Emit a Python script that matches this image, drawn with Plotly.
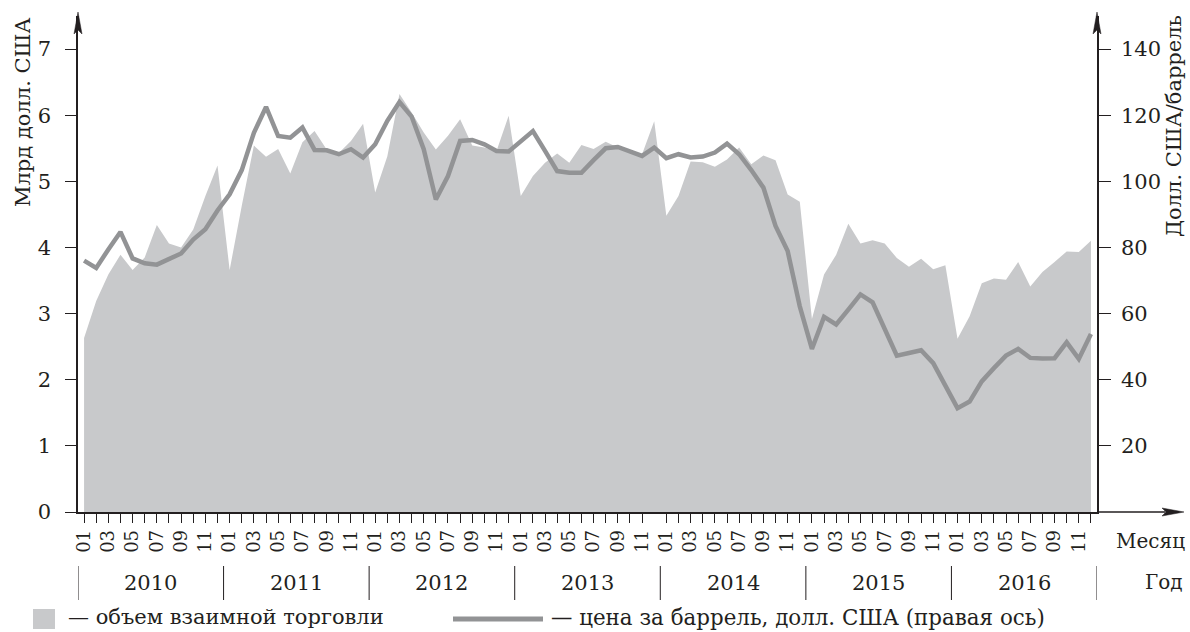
import plotly.graph_objects as go
import numpy as np

# ---------------- data ----------------
years = [2010, 2011, 2012, 2013, 2014, 2015, 2016]
month_labels = ["01", "02", "03", "04", "05", "06", "07", "08", "09", "10", "11", "12"]

# mutual trade volume, bn USD (left axis), monthly 2010-01 .. 2016-12
trade_volume = [
    2.63, 3.19, 3.59, 3.89, 3.66, 3.85, 4.34, 4.06, 4.00, 4.27, 4.78, 5.24,   # 2010
    3.66, 4.63, 5.54, 5.37, 5.49, 5.12, 5.59, 5.76, 5.48, 5.43, 5.61, 5.87,   # 2011
    4.83, 5.38, 6.32, 6.04, 5.74, 5.48, 5.69, 5.94, 5.54, 5.51, 5.46, 5.99,   # 2012
    4.78, 5.08, 5.28, 5.42, 5.28, 5.55, 5.49, 5.60, 5.51, 5.46, 5.41, 5.91,   # 2013
    4.48, 4.78, 5.30, 5.29, 5.22, 5.33, 5.51, 5.26, 5.39, 5.32, 4.80, 4.69,   # 2014
    2.92, 3.59, 3.89, 4.36, 4.06, 4.11, 4.06, 3.84, 3.71, 3.83, 3.67, 3.73,   # 2015
    2.62, 2.96, 3.46, 3.53, 3.51, 3.78, 3.41, 3.63, 3.78, 3.94, 3.93, 4.10,   # 2016
]

# oil price, USD per barrel (right axis)
oil_price = [
    76.0, 73.8, 79.4, 84.7, 76.7, 75.2, 74.8, 76.4, 78.2, 82.4, 85.5, 91.2,   # 2010
    96.1, 103.4, 114.7, 122.5, 113.7, 113.2, 116.3, 109.5, 109.4, 108.2, 109.7, 107.2,  # 2011
    111.2, 118.3, 124.0, 119.6, 109.7, 94.5, 101.6, 112.2, 112.5, 111.2, 109.2, 109.0,  # 2012
    112.2, 115.2, 109.2, 103.1, 102.6, 102.6, 106.4, 110.0, 110.4, 109.0, 107.7, 110.2,  # 2013
    107.0, 108.2, 107.2, 107.5, 108.7, 111.4, 108.2, 103.4, 98.1, 86.5, 78.9, 62.2,    # 2014
    49.3, 59.0, 56.7, 61.2, 65.8, 63.4, 55.2, 47.3, 48.1, 48.9, 45.0, 38.5,            # 2015
    31.4, 33.4, 39.5, 43.5, 47.3, 49.3, 46.6, 46.4, 46.5, 51.3, 46.3, 53.8,            # 2016
]

left_ticks = [0, 1, 2, 3, 4, 5, 6, 7]
right_ticks = [20, 40, 60, 80, 100, 120, 140]

left_title = "Млрд долл. США"
right_title = "Долл. США/баррель"
legend_area = "— объем взаимной торговли"
legend_line = "— цена за баррель, долл. США (правая ось)"

# ---------------- layout constants ----------------
W, H = 1190, 632
ML, MR, MT, MB = 78, 93, 16, 120
PW = W - ML - MR
PH = H - MT - MB
Y0 = H - MB  # pixel of zero line

def px(x):
    return (x - ML) / PW

def py(y):
    return (Y0 - y) / PH

FONT = "DejaVu Serif"
TXT = "#231f20"
AREA = "#c8c9cb"
LINE = "#929395"

x = np.arange(len(trade_volume))
tickvals = [i for i in x if i != 47]
ticktext = [month_labels[i % 12] if (i % 12) % 2 == 0 else "" for i in tickvals]

fig = go.Figure()
fig.add_trace(go.Scatter(x=x, y=trade_volume, mode="none", fill="tozeroy",
                         fillcolor=AREA, yaxis="y", hoverinfo="skip"))
fig.add_trace(go.Scatter(x=x, y=oil_price, mode="lines",
                         line=dict(color=LINE, width=4.5), yaxis="y2"))

shapes = []
annotations = []

def note(xp, yp, text, size, angle=0, xanchor="center"):
    return dict(xref="paper", yref="paper", x=px(xp), y=py(yp), text=text,
                textangle=angle, showarrow=False, xanchor=xanchor, yanchor="middle",
                font=dict(family=FONT, size=size, color=TXT))

# year separators and labels
for k in range(len(years) + 1):
    shapes.append(dict(type="line", xref="x", yref="paper",
                       x0=-0.5 + 12 * k, x1=-0.5 + 12 * k,
                       y0=py(566), y1=py(600), line=dict(color=TXT, width=1)))
for k, yr in enumerate(years):
    annotations.append(dict(xref="x", yref="paper", x=5.5 + 12 * k, y=py(583),
                            text=str(yr), showarrow=False, xanchor="center", yanchor="middle",
                            font=dict(family=FONT, size=21, color=TXT)))

annotations.append(note(1150, 541, "Месяц", 20))
annotations.append(note(1164, 582, "Год", 20))

# axis titles
annotations.append(note(23, 112, left_title, 21, angle=-90))
annotations.append(note(1174, 126, right_title, 21, angle=-90))

# axis extensions and arrows
shapes.append(dict(type="line", xref="paper", yref="paper", x0=0, x1=0,
                   y0=1, y1=py(30), line=dict(color=TXT, width=1.5)))
shapes.append(dict(type="line", xref="paper", yref="paper", x0=1, x1=1,
                   y0=1, y1=py(30), line=dict(color=TXT, width=1.5)))
shapes.append(dict(type="line", xref="paper", yref="paper", x0=1, x1=px(1165),
                   y0=0, y1=0, line=dict(color=TXT, width=1.5)))

def up_arrow(xp):
    return (f"M {px(xp)},{py(12)} L {px(xp-4)},{py(34)} L {px(xp)},{py(30)} "
            f"L {px(xp+4)},{py(34)} Z")

shapes.append(dict(type="path", xref="paper", yref="paper", path=up_arrow(ML),
                   fillcolor=TXT, line=dict(color=TXT, width=0.5)))
shapes.append(dict(type="path", xref="paper", yref="paper", path=up_arrow(ML + PW),
                   fillcolor=TXT, line=dict(color=TXT, width=0.5)))
shapes.append(dict(type="path", xref="paper", yref="paper",
                   path=(f"M {px(1184)},{py(Y0)} L {px(1162)},{py(Y0-4)} L {px(1166)},{py(Y0)} "
                         f"L {px(1162)},{py(Y0+4)} Z"),
                   fillcolor=TXT, line=dict(color=TXT, width=0.5)))

# custom legend
shapes.append(dict(type="rect", xref="paper", yref="paper", x0=px(33), x1=px(55),
                   y0=py(609), y1=py(629), fillcolor=AREA, line=dict(width=0)))
annotations.append(note(66, 617, legend_area, 21, xanchor="left"))
shapes.append(dict(type="line", xref="paper", yref="paper", x0=px(453), x1=px(543),
                   y0=py(619), y1=py(619), line=dict(color=LINE, width=5)))
annotations.append(note(549, 617, legend_line, 21.4, xanchor="left"))

fig.update_layout(
    width=W, height=H,
    margin=dict(l=ML, r=MR, t=MT, b=MB, pad=0),
    paper_bgcolor="white", plot_bgcolor="white",
    showlegend=False,
    font=dict(family=FONT, color=TXT),
    xaxis=dict(range=[-0.5, 83.5], tickmode="array", tickvals=tickvals, ticktext=ticktext,
               tickangle=-90, ticks="outside", ticklen=9, tickwidth=1, tickcolor=TXT,
               showline=True, linecolor=TXT, linewidth=1.5, showgrid=False, zeroline=False,
               tickfont=dict(family=FONT, size=18, color=TXT)),
    yaxis=dict(range=[0, 7.5], tickmode="array", tickvals=left_ticks,
               ticks="outside", ticklen=11, tickwidth=1, tickcolor=TXT,
               showline=True, linecolor=TXT, linewidth=1.5, showgrid=False, zeroline=False,
               ticklabelstandoff=10,
               tickfont=dict(family=FONT, size=21, color=TXT)),
    yaxis2=dict(range=[0, 150], overlaying="y", side="right", tickmode="array",
                tickvals=right_ticks, ticks="outside", ticklen=12, tickwidth=1, tickcolor=TXT,
                showline=True, linecolor=TXT, linewidth=1.5, showgrid=False, zeroline=False,
                ticklabelstandoff=6,
                tickfont=dict(family=FONT, size=21, color=TXT)),
    shapes=shapes,
    annotations=annotations,
)

fig.write_html("out.html", config={"displayModeBar": False},
               post_script="document.body.style.margin='0';")
